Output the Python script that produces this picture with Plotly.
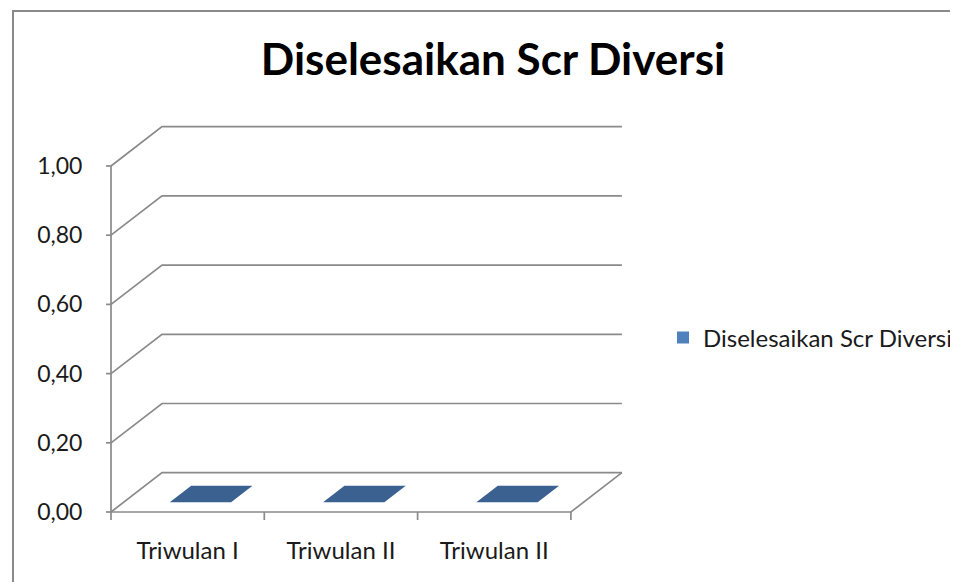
import plotly.graph_objects as go

# ---------------- data ----------------
categories = ["Triwulan I", "Triwulan II", "Triwulan II"]
values = [0.0, 0.0, 0.0]
series_name = "Diselesaikan Scr Diversi"
chart_title = "Diselesaikan Scr Diversi"
y_ticks = [0.0, 0.2, 0.4, 0.6, 0.8, 1.0]

# ---------------- styling / geometry ----------------
FONT = "Lato"
GRID = "#8a8a8a"
BAR_TOP = "#3b6190"
BAR_FRONT = "#4a77ad"
BAR_SIDE = "#3a5f8c"
LEGEND_COLOR = "#4f81bd"

PX_X = 153.3      # px per category unit
PX_Y = 346.0      # px per value unit
KX = 51.0 / PX_X  # oblique depth offset (category units)
KY = 39.3 / PX_Y  # oblique depth offset (value units)
BAR_W = 0.4
Z0, Z1 = 0.25, 0.67

OFF = 8           # page body margin
n = len(categories)
y_max = max(y_ticks)


def proj(u, v, z):
    return u + z * KX, v + z * KY


def seg_trace(xs, ys, color=GRID, width=1.7):
    return go.Scatter(x=xs, y=ys, mode="lines", line=dict(color=color, width=width),
                      hoverinfo="skip", showlegend=False)


fig = go.Figure()

# back wall gridlines with side-wall diagonals
gx, gy = [], []
for v in y_ticks:
    p0 = proj(0, v, 0)
    p1 = proj(0, v, 1)
    p2 = proj(n, v, 1)
    gx += [p0[0], p1[0], p2[0], None]
    gy += [p0[1], p1[1], p2[1], None]
# floor front and right edges
f0 = proj(0, 0, 0)
f1 = proj(n, 0, 0)
f2 = proj(n, 0, 1)
gx += [f0[0], f1[0], f2[0], None]
gy += [f0[1], f1[1], f2[1], None]
fig.add_trace(seg_trace(gx, gy))

# value axis line and its ticks
tkx = 8.0 / PX_X
tky = 8.0 / PX_Y
ax_x, ax_y = [0, 0, None], [0, y_max, None]
for v in y_ticks:
    ax_x += [-tkx, 0, None]
    ax_y += [v, v, None]
for i in range(n + 1):
    ax_x += [i, i, None]
    ax_y += [0, -tky, None]
fig.add_trace(seg_trace(ax_x, ax_y))

# 3D-looking bars
for i, v in enumerate(values):
    c = i + 0.5
    x0, x1 = c - BAR_W / 2, c + BAR_W / 2
    if v > 0:
        pts = [proj(x0, 0, Z0), proj(x1, 0, Z0), proj(x1, v, Z0), proj(x0, v, Z0), proj(x0, 0, Z0)]
        fig.add_trace(go.Scatter(x=[p[0] for p in pts], y=[p[1] for p in pts], mode="lines",
                                 fill="toself", fillcolor=BAR_FRONT, line=dict(width=0),
                                 hoverinfo="skip", showlegend=False))
        pts = [proj(x1, 0, Z0), proj(x1, 0, Z1), proj(x1, v, Z1), proj(x1, v, Z0), proj(x1, 0, Z0)]
        fig.add_trace(go.Scatter(x=[p[0] for p in pts], y=[p[1] for p in pts], mode="lines",
                                 fill="toself", fillcolor=BAR_SIDE, line=dict(width=0),
                                 hoverinfo="skip", showlegend=False))
    # top face
    pts = [proj(x0, v, Z0), proj(x1, v, Z0), proj(x1, v, Z1), proj(x0, v, Z1), proj(x0, v, Z0)]
    fig.add_trace(go.Scatter(x=[p[0] for p in pts], y=[p[1] for p in pts], mode="lines",
                             fill="toself", fillcolor=BAR_TOP, line=dict(width=0),
                             hoverinfo="skip", showlegend=False))

# legend entry (the actual bar series; zero height)
fig.add_trace(go.Bar(x=[i + 0.5 for i in range(n)], y=values, width=BAR_W,
                     name=series_name, marker=dict(color=LEGEND_COLOR, line=dict(width=0)),
                     hoverinfo="skip"))

# ---------------- layout ----------------
W, H = 958 - OFF, 582 - OFF
AXIS_X = 111 - OFF
ZERO_Y = 512 - OFF
L, T = AXIS_X - 5, 118 - OFF
plot_right = 643 - OFF
plot_bottom = 523 - OFF
R = W - plot_right
B = H - plot_bottom
plot_w = W - L - R
plot_h = H - T - B
x_lo = -(AXIS_X - L) / PX_X
x_hi = x_lo + plot_w / PX_X
y_top = (ZERO_Y - T) / PX_Y
y_bot = (ZERO_Y - plot_bottom) / PX_Y


def paper_x(page_px):
    return (page_px - OFF - L) / plot_w


def paper_y(page_py):
    return (plot_bottom - (page_py - OFF)) / plot_h


fig.update_layout(
    width=W, height=H,
    margin=dict(l=L, r=R, t=T, b=B, autoexpand=False),
    paper_bgcolor="white", plot_bgcolor="white",
    separators=",.",
    font=dict(family=FONT, size=24, color="#1a1a1a"),
    title=dict(text=chart_title, x=paper_x(493), xref="paper", xanchor="center",
               y=1 - (60 - OFF) / H, yref="container", yanchor="middle",
               font=dict(family=FONT, size=44, color="black", weight=700)),
    showlegend=True,
    legend=dict(xref="container", yref="container",
                x=(663 - OFF) / W, xanchor="left",
                y=1 - (338 - OFF) / H, yanchor="middle",
                font=dict(family=FONT, size=24, color="#1a1a1a"),
                bgcolor="rgba(0,0,0,0)"),
    xaxis=dict(range=[x_lo, x_hi], showgrid=False, zeroline=False, showline=False,
               tickvals=[i + 0.5 for i in range(n)], ticktext=categories,
               tickfont=dict(size=24), automargin=False,
               ticks="outside", ticklen=6, tickcolor="rgba(0,0,0,0)"),
    yaxis=dict(range=[y_bot, y_top], showgrid=False, zeroline=False, showline=False,
               tickvals=y_ticks, tickformat=".2f", tickfont=dict(size=23), automargin=False,
               ticks="outside", ticklen=18, tickcolor="rgba(0,0,0,0)"),
    shapes=[dict(type="rect", xref="paper", yref="paper",
                 x0=paper_x(13), x1=paper_x(1000), y0=paper_y(640), y1=paper_y(11),
                 line=dict(color="#8a8a8a", width=2), fillcolor="rgba(0,0,0,0)", layer="below")],
)

fig.write_html("out.html")
